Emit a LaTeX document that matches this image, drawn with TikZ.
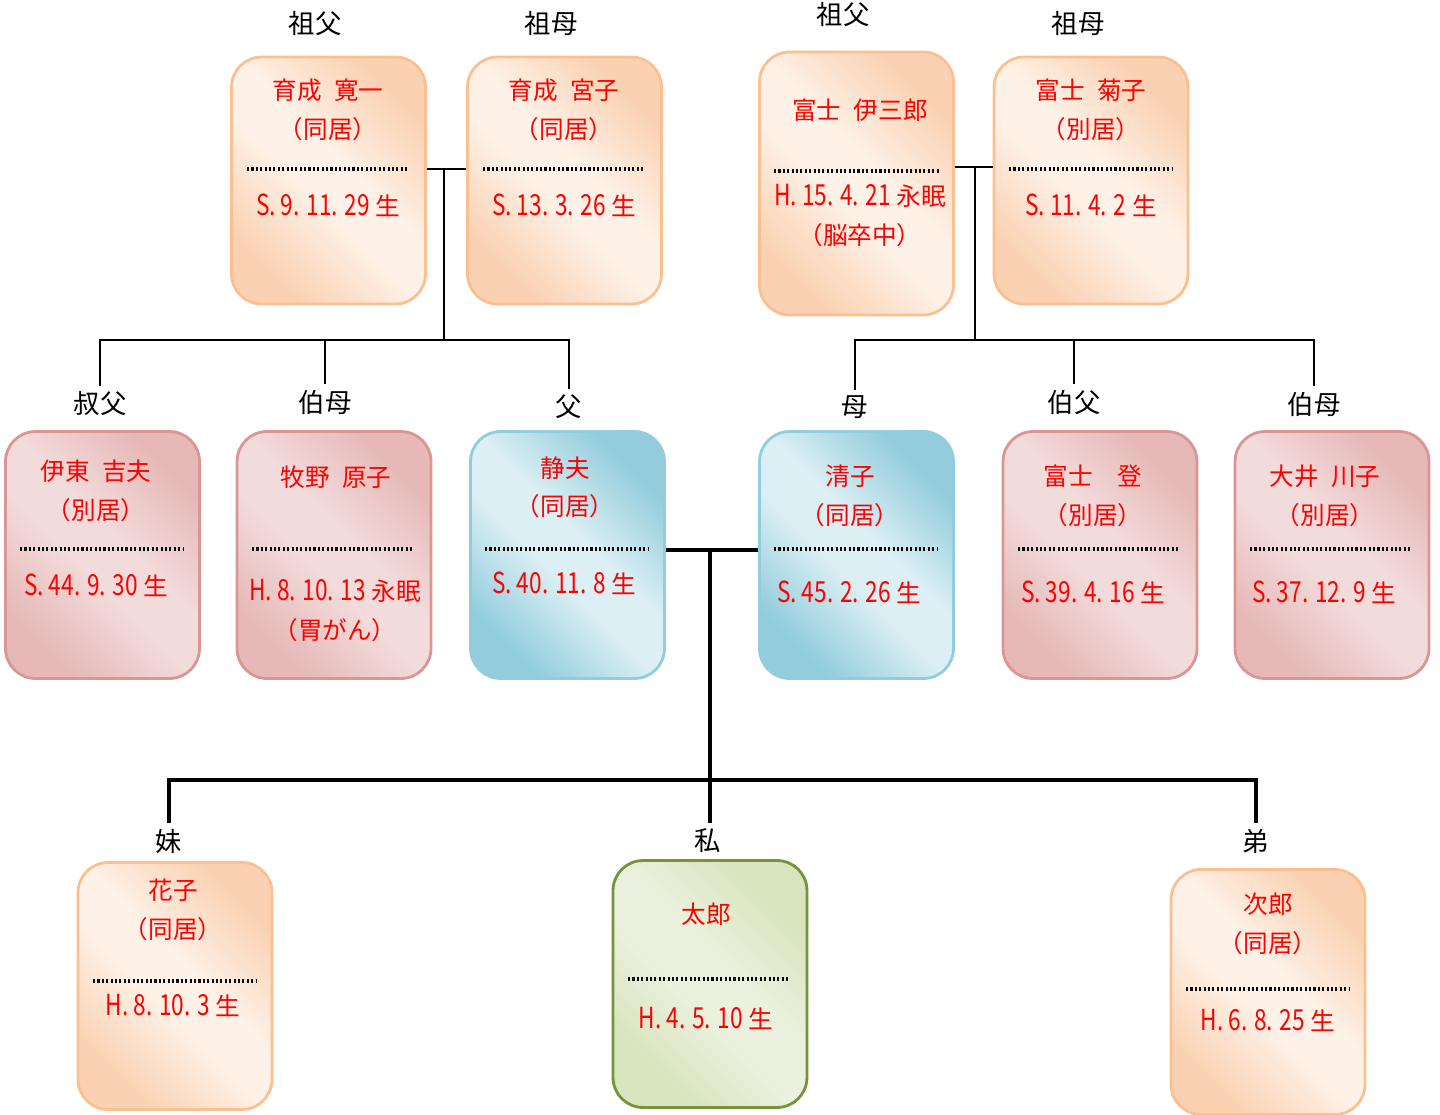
\documentclass[tikz,border=0pt]{standalone}
\usepackage{fontspec}
\setmainfont{Noto Sans CJK JP}
\newfontfamily\numfont[FakeStretch=0.78]{Noto Sans CJK JP}
\usepackage{tikz}
\usetikzlibrary{positioning}

\newcommand{\ymd}[1]{{\numfont\fontsize{16.5}{22}\selectfont #1}}

\definecolor{orLight}{HTML}{FEF1E7}
\definecolor{orDark}{HTML}{FAD2B3}
\definecolor{orLine}{HTML}{FAC090}
\definecolor{pkLight}{HTML}{F2DCDB}
\definecolor{pkDark}{HTML}{E6B9B8}
\definecolor{pkLine}{HTML}{D99694}
\definecolor{blLight}{HTML}{DCEFF4}
\definecolor{blDark}{HTML}{93CDDD}
\definecolor{blLine}{HTML}{92CDDC}
\definecolor{grLight}{HTML}{EBF1DE}
\definecolor{grDark}{HTML}{D7E4BD}
\definecolor{grLine}{HTML}{77933C}

\pgfdeclarehorizontalshading{orshade}{100bp}{color(0bp)=(orDark); color(26bp)=(orDark); color(45bp)=(orLight); color(55bp)=(orLight); color(74bp)=(orDark); color(100bp)=(orDark)}
\pgfdeclarehorizontalshading{pkshade}{100bp}{color(0bp)=(pkDark); color(26bp)=(pkDark); color(45bp)=(pkLight); color(55bp)=(pkLight); color(74bp)=(pkDark); color(100bp)=(pkDark)}
\pgfdeclarehorizontalshading{blshade}{100bp}{color(0bp)=(blDark); color(26bp)=(blDark); color(45bp)=(blLight); color(55bp)=(blLight); color(74bp)=(blDark); color(100bp)=(blDark)}
\pgfdeclarehorizontalshading{grshade}{100bp}{color(0bp)=(grDark); color(26bp)=(grDark); color(45bp)=(grLight); color(55bp)=(grLight); color(74bp)=(grDark); color(100bp)=(grDark)}

\begin{document}
\begin{tikzpicture}[
        x=0.02cm, y=-0.02cm,
        box/.style={rectangle, rounded corners=0.6cm, line width=1.6pt, minimum width=3.88cm, minimum height=4.94cm, inner sep=0pt},
        orbox/.style={box, draw=orLine, shading=orshade, shading angle=45},
        pkbox/.style={box, draw=pkLine, shading=pkshade, shading angle=45},
        blbox/.style={box, draw=blLine, shading=blshade, shading angle=45},
        grbox/.style={box, draw=grLine, shading=grshade, shading angle=45},
        who/.style={font=\fontsize{15}{18}\selectfont, inner sep=3pt},
        txt/.style={text=red, font=\fontsize{14}{22}\selectfont, align=center, inner sep=0pt},
        dots/.style={line width=2pt, dash pattern=on 1.2pt off 1.3pt},
        link/.style={line width=1.3pt},
        thicklink/.style={line width=2.2pt}
    ]
        \useasboundingbox (0,0) rectangle (1440,1115);

        % grandparents
        \node[orbox] (gf1) at (328.5,180.5) {};
        \node[orbox] (gm1) at (564.5,180.5) {};
        \node[orbox, minimum height=5.26cm] (gf2) at (856.5,183.5) {};
        \node[orbox] (gm2) at (1091,180.5) {};

        % parents' generation
        \node[pkbox] (uncle1) at (102.5,555) {};
        \node[pkbox] (aunt1) at (334,555) {};
        \node[blbox] (father) at (567.5,555) {};
        \node[blbox] (mother) at (856.5,555) {};
        \node[pkbox] (uncle2) at (1100,555) {};
        \node[pkbox] (aunt2) at (1332,555) {};

        % children
        \node[orbox] (sister) at (175,986) {};
        \node[grbox] (me) at (710,984) {};
        \node[orbox, minimum height=4.9cm] (brother) at (1268,992) {};

        % relation labels
        \node[who] (l-gf1) at (315,24) {祖父};
        \node[who] (l-gm1) at (551,24) {祖母};
        \node[who] (l-gf2) at (843,15) {祖父};
        \node[who] (l-gm2) at (1078,24) {祖母};
        \node[who] (l-uncle1) at (100,404) {叔父};
        \node[who] (l-aunt1) at (325,402) {伯母};
        \node[who] (l-father) at (569,407) {父};
        \node[who] (l-mother) at (855,407) {母};
        \node[who] (l-uncle2) at (1074,402) {伯父};
        \node[who] (l-aunt2) at (1314,404) {伯母};
        \node[who] (l-sister) at (169,841) {妹};
        \node[who] (l-me) at (708,841) {私};
        \node[who] (l-brother) at (1256,841) {弟};

        % box contents
        \node[txt] (gf1-name) at (328,110) {育成\enspace 寛一\\（同居）};
        \draw[dots] (247,169) -- (409,169);
        \node[txt] (gf1-date) at (328,205) {\ymd{S. 9. 11. 29} 生};

        \node[txt] (gm1-name) at (564,110) {育成\enspace 宮子\\（同居）};
        \draw[dots] (483,169) -- (645,169);
        \node[txt] (gm1-date) at (564,205) {\ymd{S. 13. 3. 26} 生};

        \node[txt] (gf2-name) at (860,110) {富士\enspace 伊三郎};
        \draw[dots] (774,171) -- (940,171);
        \node[txt] (gf2-date) at (860,215.5) {\ymd{H. 15. 4. 21} 永眠\\（脳卒中）};

        \node[txt] (gm2-name) at (1091,110) {富士\enspace 菊子\\（別居）};
        \draw[dots] (1009,169) -- (1172,169);
        \node[txt] (gm2-date) at (1091,205) {\ymd{S. 11. 4. 2} 生};

        \node[txt] (uncle1-name) at (96,491) {伊東\enspace 吉夫\\（別居）};
        \draw[dots] (20,549) -- (183,549);
        \node[txt] (uncle1-date) at (96,585) {\ymd{S. 44. 9. 30} 生};

        \node[txt] (aunt1-name) at (336,477) {牧野\enspace 原子};
        \draw[dots] (252,549) -- (414,549);
        \node[txt] (aunt1-date) at (335,610.5) {\ymd{H. 8. 10. 13} 永眠\\（胃がん）};

        \node[txt] (father-name) at (565,487.5) {静夫\\（同居）};
        \draw[dots] (485,549) -- (648,549);
        \node[txt] (father-date) at (564,583) {\ymd{S. 40. 11. 8} 生};

        \node[txt] (mother-name) at (850,496) {清子\\（同居）};
        \draw[dots] (774,549) -- (937,549);
        \node[txt] (mother-date) at (849,592) {\ymd{S. 45. 2. 26} 生};

        \node[txt] (uncle2-name) at (1093,496) {富士　登\\（別居）};
        \draw[dots] (1018,549) -- (1180,549);
        \node[txt] (uncle2-date) at (1093,592) {\ymd{S. 39. 4. 16} 生};

        \node[txt] (aunt2-name) at (1325,496) {大井\enspace 川子\\（別居）};
        \draw[dots] (1250,549) -- (1412,549);
        \node[txt] (aunt2-date) at (1324,592) {\ymd{S. 37. 12. 9} 生};

        \node[txt] (sister-name) at (173,910) {花子\\（同居）};
        \draw[dots] (93,981) -- (256,981);
        \node[txt] (sister-date) at (173,1005) {\ymd{H. 8. 10. 3} 生};

        \node[txt] (me-name) at (706,914) {太郎};
        \draw[dots] (628,979) -- (790,979);
        \node[txt] (me-date) at (706,1018) {\ymd{H. 4. 5. 10} 生};

        \node[txt] (brother-name) at (1268,924) {次郎\\（同居）};
        \draw[dots] (1186,989) -- (1349,989);
        \node[txt] (brother-date) at (1268,1020) {\ymd{H. 6. 8. 25} 生};

        % family lines
        \coordinate (top1) at (444,169);
        \coordinate (bus1) at (444,340);
        \draw[link] (gf1.east |- top1) -- (gm1.west |- top1);
        \draw[link] (top1) -- (bus1);
        \draw[link] (l-uncle1.north) |- (bus1) -| (l-father.north);
        \draw[link] (l-aunt1.north) -- (l-aunt1.north |- bus1);

        \coordinate (top2) at (975,167);
        \coordinate (bus2) at (975,340);
        \draw[link] (gf2.east |- top2) -- (gm2.west |- top2);
        \draw[link] (top2) -- (bus2);
        \draw[link] (l-mother.north) |- (bus2) -| (l-aunt2.north);
        \draw[link] (l-uncle2.north) -- (l-uncle2.north |- bus2);

        \coordinate (top3) at (710,550);
        \coordinate (bus3) at (710,780);
        \draw[thicklink] (father.east |- top3) -- (mother.west |- top3);
        \draw[thicklink] (top3) -- (bus3);
        \draw[thicklink] (l-sister.north) |- (bus3) -| (l-brother.north);
        \draw[thicklink] (bus3) -- (bus3 |- l-me.north);

    \end{tikzpicture}
\end{document}
